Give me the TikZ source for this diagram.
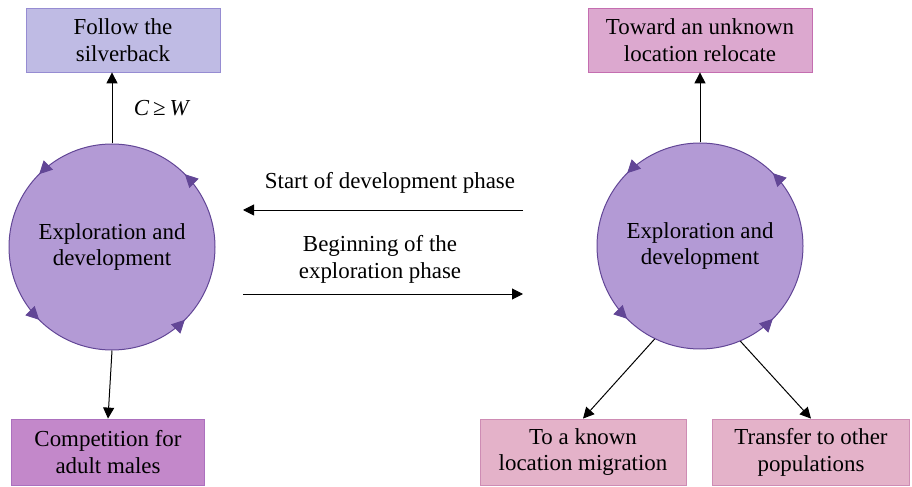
\documentclass[tikz,border=0pt]{standalone}
\usepackage{fontspec}
\setmainfont{Liberation Serif}
\usepackage{tikz}
\usetikzlibrary{arrows.meta, positioning, shapes, decorations.markings}
\usepackage{xcolor}

\definecolor{circfill}{RGB}{179,154,213}
\definecolor{circline}{RGB}{98,70,150}
\definecolor{silverfill}{RGB}{191,187,228}
\definecolor{silverline}{RGB}{150,140,210}
\definecolor{relfill}{RGB}{220,168,207}
\definecolor{relline}{RGB}{196,110,176}
\definecolor{compfill}{RGB}{195,136,202}
\definecolor{compline}{RGB}{172,112,190}
\definecolor{migfill}{RGB}{228,178,201}
\definecolor{migline}{RGB}{206,140,180}

\tikzset{
  phasecirc/.style={circle, draw=circline, line width=1pt, fill=circfill,
    minimum size=206bp, inner sep=0pt, align=center,
    decoration={markings,
      mark=at position 0.125 with {\arrow{Triangle[length=13bp,width=13bp]}},
      mark=at position 0.375 with {\arrow{Triangle[length=13bp,width=13bp]}},
      mark=at position 0.625 with {\arrow{Triangle[length=13bp,width=13bp]}},
      mark=at position 0.875 with {\arrow{Triangle[length=13bp,width=13bp]}}},
    postaction={decorate, draw=none, fill=none, circline}},
  actbox/.style={rectangle, line width=0.8pt, minimum height=64bp, align=center, inner sep=0pt},
  conn/.style={-{Triangle[length=11bp,width=11bp]}, line width=1pt}
}

\begin{document}
\begin{tikzpicture}[x=1bp, y=-1bp, font=\fontsize{23}{27}\selectfont]
        \useasboundingbox (0,0) rectangle (912,487);
        % the two cycles
        \node[phasecirc] (lc) at (112,247) {Exploration and\\development};
        \node[phasecirc] (rc) at (700,246) {Exploration and\\development};
        % outcome boxes
        \node[actbox, draw=silverline, fill=silverfill, minimum width=194bp] (fol) at (123,40) {Follow the\\silverback};
        \node[actbox, draw=relline, fill=relfill, minimum width=224bp] (rel) at (700,40) {Toward an unknown\\location relocate};
        \node[actbox, draw=compline, fill=compfill, minimum width=193bp, minimum height=66bp] (comp) at (108,452) {Competition for\\adult males};
        \node[actbox, draw=migline, fill=migfill, minimum width=206bp, minimum height=66bp] (known) at (583,452) {To a known\\location migration};
        \node[actbox, draw=migline, fill=migfill, minimum width=197bp, minimum height=66bp] (trans) at (811,452) {Transfer to other\\populations};
        % phase switches
        \coordinate (s1) at (523,210);
        \coordinate (s2) at (243,210);
        \coordinate (b1) at (243,294);
        \coordinate (b2) at (523,294);
        \draw[conn] (s1) -- (s2);
        \draw[conn] (b1) -- (b2);
        \node (startlbl) at (390,183) {Start of development phase};
        \node[align=center] (beginlbl) at (380,259) {Beginning of the\\exploration phase};
        % connectors
        \draw[conn] (lc.north) -- node[right=18bp, pos=0.5] (cond) {\textit{C}\,≥\,\textit{W}} (lc.north |- fol.south);
        \draw[conn] (lc.south) -- (comp.north);
        \draw[conn] (rc.north) -- (rel.south);
        \draw[conn] (rc.244) -- (known.north);
        \draw[conn] (rc.293) -- (trans.north);
    \end{tikzpicture}
\end{document}
